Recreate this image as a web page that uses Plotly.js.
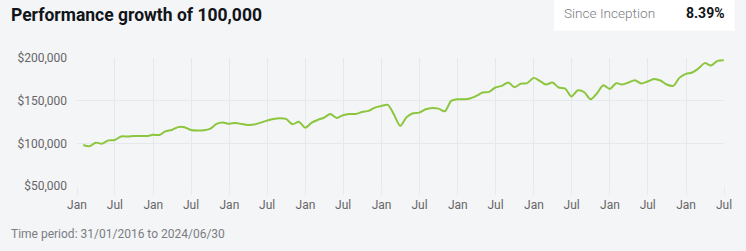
<!DOCTYPE html>
<html>
<head>
<meta charset="utf-8">
<script src="https://cdn.plot.ly/plotly-3.0.1.min.js"></script>
<style>
  html, body { margin: 0; padding: 0; background: #f4f5f7; }
  #chart { width: 746px; height: 251px; }
</style>
</head>
<body>
<div id="chart"></div>
<script>
// ---- Data (month-end values, Jan 2016 .. Jun 2024) ----
const startYear = 2016;
const values2016 = [98000, 96500, 100800, 99600, 103500, 104000, 108000, 108000, 108600, 108600, 108600, 110000];
const values2017 = [109800, 114000, 115700, 119000, 118800, 115700, 115000, 115300, 117000, 122700, 124300, 123000];
const values2018 = [123800, 122700, 121500, 122000, 124300, 126600, 128600, 129400, 128600, 122300, 125400, 118400];
const values2019 = [124300, 127400, 130000, 134400, 129800, 133000, 134400, 134400, 136800, 138000, 141900, 143800];
const values2020 = [145000, 134000, 120400, 130500, 135200, 136000, 139900, 141500, 140700, 137600, 149700, 151700];
const values2021 = [151700, 152500, 155600, 159500, 160300, 165400, 167300, 171300, 165800, 170000, 170500, 176700];
const values2022 = [172800, 168900, 171300, 165400, 164200, 154800, 162200, 159900, 151700, 158700, 168100, 163800];
const values2023 = [170500, 168900, 171300, 174000, 170000, 172400, 175500, 173600, 168900, 167300, 176700, 181400];
const values2024 = [183000, 187700, 194000, 191200, 196700, 197500];

const titleText = "Performance growth of 100,000";
const statLabel = "Since Inception";
const statValue = "8.39%";
const footerText = "Time period: 31/01/2016 to 2024/06/30";
const yTicks = [50000, 100000, 150000, 200000];
const yTickText = ["$50,000", "$100,000", "$150,000", "$200,000"];

const values = [].concat(values2016, values2017, values2018, values2019, values2020,
                         values2021, values2022, values2023, values2024);

function monthEnd(i) {
  const y = startYear + Math.floor(i / 12);
  const m = i % 12;
  const d = new Date(Date.UTC(y, m + 1, 0));
  return d.toISOString().slice(0, 10);
}
const dates = values.map((_, i) => monthEnd(i));

// ---- Layout geometry ----
const W = 746, H = 251;
const L = 76.7, R = 21.7, T = 58.3, B = 65;
const pw = W - L - R, ph = H - T - B;
const px = x => (x - L) / pw;
const py = y => (H - B - y) / ph;

const grid = '#e7e8eb';
const tickFont = { family: 'Roboto, sans-serif', size: 12, color: '#666666' };

const trace = {
  x: dates,
  y: values,
  type: 'scatter',
  mode: 'lines',
  line: { color: '#8cc63f', width: 2, shape: 'spline', smoothing: 0.8 },
  hoverinfo: 'skip'
};

const layout = {
  width: W, height: H,
  margin: { l: L, r: R, t: T, b: B, pad: 0 },
  paper_bgcolor: '#f4f5f7',
  plot_bgcolor: '#f4f5f7',
  showlegend: false,
  hovermode: false,
  xaxis: {
    type: 'date',
    range: ['2016-01-01', '2024-07-01'],
    tick0: '2016-01-01',
    dtick: 'M6',
    tickformat: '%b',
    showgrid: true,
    gridcolor: grid,
    gridwidth: 1,
    zeroline: false,
    showline: false,
    ticks: 'outside',
    ticklen: 8,
    tickcolor: grid,
    tickfont: tickFont,
    fixedrange: true
  },
  yaxis: {
    range: [50000, 200000],
    tickmode: 'array',
    tickvals: yTicks,
    ticktext: yTickText,
    showgrid: true,
    gridcolor: grid,
    gridwidth: 1,
    zeroline: false,
    showline: false,
    ticks: '',
    ticklabelstandoff: 9,
    tickfont: tickFont,
    fixedrange: true
  },
  shapes: [
    {
      type: 'rect', xref: 'paper', yref: 'paper',
      x0: px(554), x1: px(735), y0: py(31), y1: py(0),
      fillcolor: '#ffffff', line: { width: 0 }, layer: 'below'
    }
  ],
  annotations: [
    {
      text: '<b>' + titleText + '</b>', xref: 'paper', yref: 'paper',
      x: px(9), y: py(15.5), xanchor: 'left', yanchor: 'middle', showarrow: false,
      font: { family: 'Roboto, sans-serif', size: 17.5, color: '#111418' }
    },
    {
      text: statLabel, xref: 'paper', yref: 'paper',
      x: px(562), y: py(13.5), xanchor: 'left', yanchor: 'middle', showarrow: false,
      font: { family: 'Roboto, sans-serif', size: 13.6, color: '#7a7d82', weight: 300 }
    },
    {
      text: '<b>' + statValue + '</b>', xref: 'paper', yref: 'paper',
      x: px(727.5), y: py(13.5), xanchor: 'right', yanchor: 'middle', showarrow: false,
      font: { family: 'Roboto, sans-serif', size: 14, color: '#111418' }
    },
    {
      text: footerText, xref: 'paper', yref: 'paper',
      x: px(9), y: py(233.5), xanchor: 'left', yanchor: 'middle', showarrow: false,
      font: { family: 'Roboto, sans-serif', size: 12, color: '#7a7d82' }
    }
  ]
};

Plotly.newPlot('chart', [trace], layout, { displayModeBar: false, staticPlot: true });
</script>
</body>
</html>
